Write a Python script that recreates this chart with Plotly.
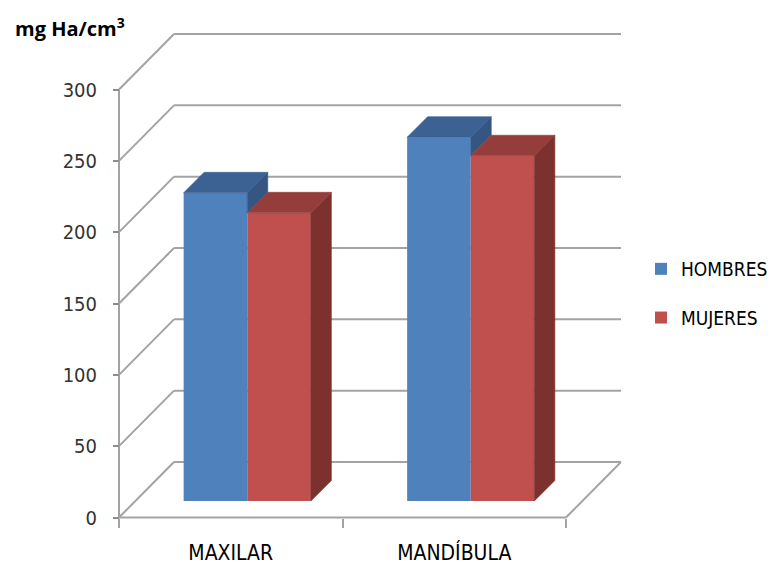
import plotly.graph_objects as go

# ---------------- data ----------------
categories = ["MAXILAR", "MANDÍBULA"]
series_names = ["HOMBRES", "MUJERES"]
hombres = [216, 255]
mujeres = [202, 242]
y_ticks = [0, 50, 100, 150, 200, 250, 300]

front_colors = ["#4F81BD", "#C0504D"]
top_colors = ["#3C6293", "#943D3B"]
side_colors = ["#355683", "#7C312F"]

NARROW = "Liberation Sans Narrow, Arial Narrow, DejaVu Sans Condensed, sans-serif"

# ---------------- oblique 3D geometry (pixel sizes -> data units) ----------------
PX_PER_X = 223.5          # one category slot
PX_PER_Y = 428 / 300      # value scale
def ux(px): return px / PX_PER_X
def uy(px): return px / PX_PER_Y

WALL_DX, WALL_DY = ux(55), uy(55.5)     # full depth of floor / side wall
BAR_DX, BAR_DY = ux(16.5), uy(16.5)     # depth position of bar front faces
DEP_DX, DEP_DY = ux(20.5), uy(20.5)     # depth of the bars
BAR_W = ux(63.6)

series_vals = [hombres, mujeres]
n_cat = len(categories)

fig = go.Figure()

# front faces as real bars
for s, (name, vals) in enumerate(zip(series_names, series_vals)):
    off = (s - 0.5) * BAR_W
    fig.add_trace(go.Bar(
        x=[i + 0.5 + BAR_DX + off for i in range(n_cat)],
        y=vals,
        base=[BAR_DY] * n_cat,
        width=BAR_W,
        name=name,
        legendgroup=name,
        marker=dict(color=front_colors[s], line=dict(width=0)),
    ))

# top and side faces
for s, vals in enumerate(series_vals):
    off = (s - 0.5) * BAR_W
    tx, ty, sx, sy = [], [], [], []
    for i in range(n_cat):
        xl = i + 0.5 + BAR_DX + off - BAR_W / 2
        xr = xl + BAR_W
        top = BAR_DY + vals[i]
        tx += [xl, xr, xr + DEP_DX, xl + DEP_DX, xl, None]
        ty += [top, top, top + DEP_DY, top + DEP_DY, top, None]
        # side face: hidden below the top of the next bar in the group
        lo = 0
        if s + 1 < len(series_vals):
            lo = min(vals[i], series_vals[s + 1][i])
        low = BAR_DY + lo
        sx += [xr, xr, xr + DEP_DX, xr + DEP_DX, xr, None]
        sy += [low, top, top + DEP_DY, low + DEP_DY, low, None]
    fig.add_trace(go.Scatter(x=sx, y=sy, mode="lines", fill="toself",
                             fillcolor=side_colors[s],
                             line=dict(color=side_colors[s], width=0.6),
                             hoverinfo="skip", showlegend=False))
    fig.add_trace(go.Scatter(x=tx, y=ty, mode="lines", fill="toself",
                             fillcolor=top_colors[s],
                             line=dict(color=top_colors[s], width=0.6),
                             hoverinfo="skip", showlegend=False))

# walls, floor, gridlines (below traces)
GRID = dict(color="#a3a3a3", width=2)
shapes = []
for t in y_ticks:
    shapes.append(dict(type="line", xref="x", yref="y", x0=0, y0=t,
                       x1=WALL_DX, y1=t + WALL_DY, line=GRID, layer="below"))
    shapes.append(dict(type="line", xref="x", yref="y", x0=WALL_DX, y0=t + WALL_DY,
                       x1=n_cat + WALL_DX, y1=t + WALL_DY, line=GRID, layer="below"))
shapes.append(dict(type="line", xref="x", yref="y", x0=0, y0=0, x1=n_cat, y1=0,
                   line=GRID, layer="below"))
shapes.append(dict(type="line", xref="x", yref="y", x0=n_cat, y0=0,
                   x1=n_cat + WALL_DX, y1=WALL_DY, line=GRID, layer="below"))
shapes.append(dict(type="line", xref="x", yref="y", x0=0, y0=0, x1=0, y1=max(y_ticks),
                   line=GRID, layer="below"))

# layout geometry
L, R, T, B = 110, 0, 30, 48
W, H = 770, 568
pw, ph = W - L - R, H - T - B
x0_px, y0_px = 119, 517.5
x_range = [(L - x0_px) / PX_PER_X, (W - R - x0_px) / PX_PER_X]
y_range = [(y0_px - (H - B)) / PX_PER_Y, (y0_px - T) / PX_PER_Y]

fig.update_layout(
    width=W, height=H,
    margin=dict(l=L, r=R, t=T, b=B, autoexpand=False),
    paper_bgcolor="white", plot_bgcolor="white",
    barmode="overlay",
    shapes=shapes,
    showlegend=True,
    legend=dict(x=(641 - L) / pw, y=(H - B - 250) / ph, xanchor="left", yanchor="top",
                font=dict(family=NARROW, size=19, color="#000000"),
                tracegroupgap=21, bgcolor="rgba(0,0,0,0)"),
    xaxis=dict(range=x_range, anchor="free", position=(H - B - y0_px) / ph,
               automargin=False,
               tickvals=[i + 0.5 for i in range(n_cat)], ticktext=categories,
               ticks="", showgrid=False, zeroline=False, showline=False,
               tickfont=dict(family=NARROW, size=21, color="#000000"),
               ticklabelstandoff=20,
               minor=dict(tickvals=list(range(n_cat + 1)), ticks="outside",
                          ticklen=9, tickwidth=2, tickcolor="#a3a3a3", showgrid=False)),
    yaxis=dict(range=y_range, anchor="free", position=(x0_px - L) / pw,
               automargin=False,
               tickvals=y_ticks, ticks="outside", ticklen=6, tickwidth=2,
               tickcolor="#8c8c8c", showgrid=False, zeroline=False, showline=False,
               tickfont=dict(family=NARROW, size=20, color="#333333"),
               ticklabelstandoff=12),
    annotations=[dict(text="<b>mg Ha/cm<sup>3</sup></b>", xref="paper", yref="paper",
                      x=(13 - L) / pw, y=1 + (T - 11) / ph, xanchor="left", yanchor="top",
                      showarrow=False,
                      font=dict(family="Open Sans, sans-serif", size=20, color="#000000"))],
)

fig.write_html("out.html")
